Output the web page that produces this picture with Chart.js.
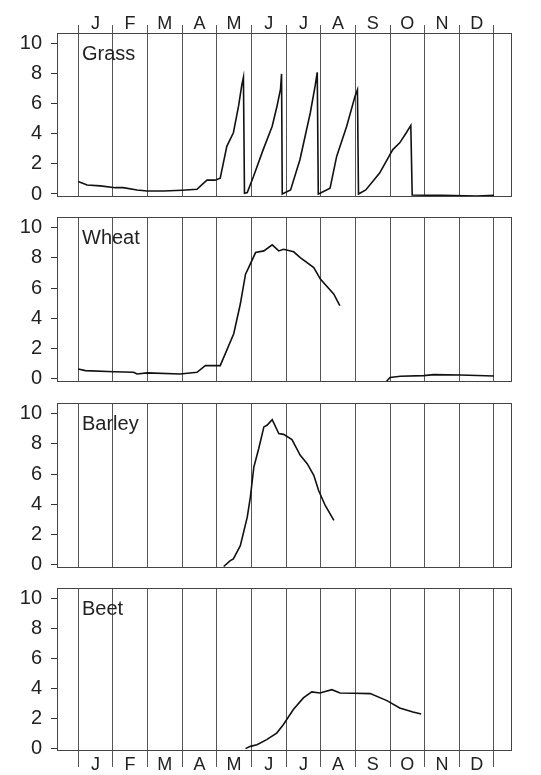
<!DOCTYPE html>
<html>
<head>
<meta charset="utf-8">
<script src="https://cdn.jsdelivr.net/npm/chart.js@4.4.1/dist/chart.umd.min.js"></script>
<style>
    body { margin: 0; background: #ffffff; }
    canvas { position: absolute; left: 0; }
</style>
</head>
<body>
<canvas id="grass" width="541" height="207" style="top:0px;width:541px;height:207px"></canvas>
<canvas id="wheat" width="541" height="185" style="top:207px;width:541px;height:185px"></canvas>
<canvas id="barley" width="541" height="186" style="top:392px;width:541px;height:186px"></canvas>
<canvas id="beet" width="541" height="197" style="top:578px;width:541px;height:197px"></canvas>
<script>
Chart.defaults.font.family = "'Liberation Sans', Arial, sans-serif";
Chart.defaults.color = '#222222';

const monthLabels = ['J', 'F', 'M', 'A', 'M', 'J', 'J', 'A', 'S', 'O', 'N', 'D'];
const yTickValues = [0, 2, 4, 6, 8, 10];

// x = months since 1 January, y = value
const grassX = [0, 0.26, 0.64, 1.07, 1.3, 1.7, 1.99, 2.47, 3.0, 3.43, 3.62, 3.72, 3.95, 4.1, 4.29, 4.48, 4.63, 4.72, 4.77,
    4.8, 4.88, 5.06, 5.34, 5.6, 5.74, 5.84, 5.87,
    5.89, 6.13, 6.4, 6.7, 6.84, 6.9,
    6.93, 6.98, 7.27, 7.46, 7.75, 7.99, 8.06,
    8.09, 8.13, 8.3, 8.7, 9.08, 9.28, 9.47, 9.6,
    9.64, 10.5, 11.5, 12];
const grassY = [0.83, 0.6, 0.54, 0.42, 0.42, 0.27, 0.2, 0.2, 0.25, 0.31, 0.72, 0.92, 0.92, 1.05, 3.17, 4.07, 5.85, 7.2, 7.75,
    0.05, 0.1, 1.16, 2.95, 4.5, 5.85, 6.97, 7.98,
    0, 0.27, 2.28, 5.4, 7.2, 8.09,
    0, 0.05, 0.38, 2.5, 4.5, 6.5, 6.93,
    0, 0.05, 0.27, 1.39, 2.95, 3.4, 4.07, 4.56,
    -0.07, -0.09, -0.13, -0.09];

const wheatX = [0, 0.21, 1.03, 1.6, 1.7, 1.99, 2.95, 3.43, 3.67, 4.1, 4.49, 4.68, 4.83, 4.92, 5.12, 5.36, 5.6, 5.79, 5.93,
    6.22, 6.41, 6.8, 6.99, 7.38, 7.55, 8.2, 8.9, 9.0, 9.3, 9.97, 10.26, 11.03, 12];
const wheatY = [0.66, 0.55, 0.48, 0.44, 0.33, 0.4, 0.33, 0.44, 0.88, 0.88, 2.99, 4.95, 6.92, 7.36, 8.35, 8.46, 8.86, 8.46, 8.57,
    8.4, 8.02, 7.36, 6.6, 5.6, 4.84, null, -0.15, 0.1, 0.18, 0.22, 0.29, 0.26, 0.2];

const barleyX = [4.2, 4.39, 4.48, 4.68, 4.88, 4.97, 5.07, 5.21, 5.36, 5.45, 5.6, 5.79, 5.93, 6.17, 6.41, 6.61, 6.8, 6.94, 7.13, 7.38];
const barleyY = [-0.1, 0.29, 0.4, 1.28, 3.16, 4.48, 6.47, 7.68, 9.12, 9.23, 9.6, 8.68, 8.63, 8.28, 7.24, 6.69, 5.92, 4.92, 3.93, 2.94];

const beetX = [4.83, 4.97, 5.16, 5.44, 5.73, 5.92, 6.21, 6.5, 6.74, 6.98, 7.32, 7.56, 7.95, 8.43, 8.91, 9.28, 9.66, 9.9];
const beetY = [-0.04, 0.11, 0.22, 0.56, 1.0, 1.56, 2.57, 3.35, 3.75, 3.68, 3.9, 3.68, 3.66, 3.64, 3.17, 2.68, 2.41, 2.28];

const monthTicks = [];
for (let i = 0; i <= 24; i++) {
    monthTicks.push(i / 2);
}

const gridColor = ctx => (ctx.tick && ctx.tick.value % 1 === 0) ? '#555555' : 'rgba(0,0,0,0)';

// frame round the plot and the crop name inside it
const panelLabel = {
    id: 'panelLabel',
    afterDatasetsDraw(chart, args, opts) {
        const ctx = chart.ctx;
        const area = chart.chartArea;
        ctx.save();
        ctx.strokeStyle = '#444444';
        ctx.lineWidth = 1;
        ctx.strokeRect(area.left + 0.5, area.top + 0.5, area.width - 1, area.height - 1);
        ctx.font = "20px 'Liberation Sans', Arial, sans-serif";
        ctx.fillStyle = '#222222';
        ctx.textBaseline = 'middle';
        ctx.fillText(opts.text, area.left + 25, area.top + 21);
        ctx.restore();
    }
};

function makePanel(canvasId, name, xs, ys, monthSide, axisHeight, tickLen, labelPad, padTop, padBottom) {
    const points = xs.map((x, i) => ({ x: x, y: ys[i] }));
    const showMonths = monthSide !== null;

    return new Chart(document.getElementById(canvasId), {
        type: 'line',
        data: {
            datasets: [{
                label: name,
                data: points,
                borderColor: '#111111',
                borderWidth: 1.6,
                pointRadius: 0,
                tension: 0,
                spanGaps: false
            }]
        },
        options: {
            responsive: false,
            animation: false,
            layout: { padding: { left: 0, right: 29, top: padTop, bottom: padBottom } },
            plugins: {
                legend: { display: false },
                tooltip: { enabled: false },
                panelLabel: { text: name }
            },
            scales: {
                x: {
                    type: 'linear',
                    position: monthSide || 'bottom',
                    min: -0.61,
                    max: 12.52,
                    afterBuildTicks: axis => { axis.ticks = monthTicks.map(v => ({ value: v })); },
                    afterFit: axis => {
                        axis.height = axisHeight;
                        axis.paddingLeft = 0;
                        axis.paddingRight = 0;
                    },
                    grid: {
                        color: gridColor,
                        tickColor: gridColor,
                        lineWidth: 1,
                        drawTicks: showMonths,
                        tickLength: tickLen
                    },
                    border: { display: false },
                    ticks: {
                        display: showMonths,
                        autoSkip: false,
                        maxRotation: 0,
                        padding: labelPad,
                        color: '#222222',
                        font: { size: 18 },
                        callback: v => (v % 1 === 0.5) ? monthLabels[Math.floor(v)] : ''
                    }
                },
                y: {
                    min: -0.2,
                    max: 10.7,
                    afterBuildTicks: axis => { axis.ticks = yTickValues.map(v => ({ value: v })); },
                    afterFit: axis => {
                        axis.width = 57;
                        axis.paddingTop = 0;
                        axis.paddingBottom = 0;
                    },
                    grid: { drawOnChartArea: false, tickLength: 6, tickColor: '#333333' },
                    border: { display: false },
                    ticks: { padding: 9, color: '#222222', font: { size: 20 } }
                }
            }
        },
        plugins: [panelLabel]
    });
}

makePanel('grass', 'Grass', grassX, grassY, 'top', 33, 8, -10, 0, 10);
makePanel('wheat', 'Wheat', wheatX, wheatY, null, 0, 0, 0, 10, 10);
makePanel('barley', 'Barley', barleyX, barleyY, null, 0, 0, 0, 11, 10);
makePanel('beet', 'Beet', beetX, beetY, 'bottom', 24, 16, -13, 10, 0);
</script>
</body>
</html>
